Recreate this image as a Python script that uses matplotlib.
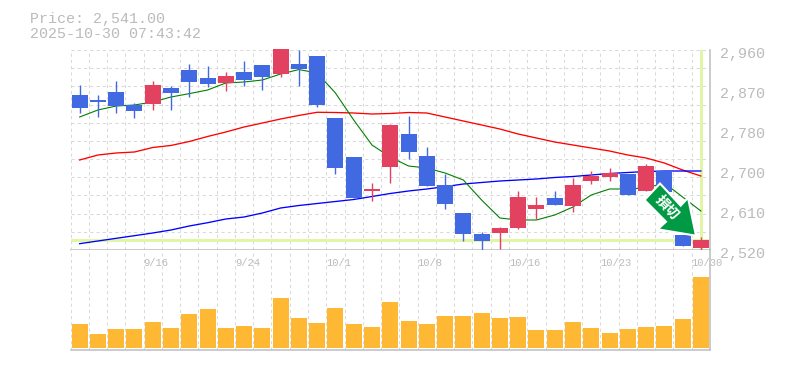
import numpy as np
import matplotlib
matplotlib.use('Agg')
import matplotlib.pyplot as plt
from matplotlib.patches import Polygon
from matplotlib.transforms import Affine2D

dates = {4: '9/16', 9: '9/24', 14: '10/1', 19: '10/8', 24: '10/16', 29: '10/23', 34: '10/30'}

opens = [2861, 2850, 2868, 2839, 2841, 2876, 2916, 2898, 2887, 2912, 2927, 2907, 2929, 2947, 2810, 2725, 2650, 2703,
         2775, 2727, 2663, 2601, 2555, 2557, 2568, 2610, 2634, 2617, 2672, 2681, 2687, 2650, 2694, 2553, 2524]
closes = [2832, 2846, 2837, 2826, 2883, 2865, 2890, 2885, 2903, 2894, 2901, 2962, 2918, 2839, 2700, 2634, 2654, 2795,
          2736, 2661, 2621, 2555, 2540, 2568, 2637, 2619, 2619, 2663, 2683, 2689, 2641, 2705, 2648, 2529, 2541]
highs = [2883, 2861, 2892, 2843, 2892, 2881, 2929, 2925, 2912, 2936, 2927, 2962, 2960, 2947, 2810, 2725, 2667, 2797,
         2815, 2747, 2687, 2601, 2560, 2571, 2650, 2637, 2650, 2678, 2694, 2700, 2687, 2709, 2694, 2553, 2549]
lows = [2821, 2813, 2821, 2810, 2828, 2828, 2857, 2879, 2870, 2881, 2872, 2901, 2881, 2835, 2687, 2634, 2628, 2667,
        2720, 2661, 2610, 2540, 2518, 2522, 2566, 2588, 2619, 2604, 2665, 2672, 2641, 2650, 2648, 2529, 2518]

ma_short = [2812.6, 2828, 2836.8, 2839, 2845.6, 2856.6, 2864, 2872, 2887.4, 2889.6, 2894, 2907.2, 2917, 2909.4, 2865.4,
            2806, 2751, 2724.6, 2704.8, 2700.4, 2689.4, 2674, 2630, 2590.4, 2586, 2586, 2597, 2614.6, 2641, 2654.2,
            2654.2, 2656.4, 2667.4, 2636.6, 2605.8]
ma_mid = [2718, 2729, 2733.4, 2735.6, 2745.5, 2750, 2758.7, 2769.7, 2779.6, 2790.6, 2799.4, 2808.2, 2816, 2823, 2822.5,
          2821.4, 2819.2, 2820.3, 2822.5, 2821.4, 2812.6, 2803.8, 2795, 2786.2, 2775.2, 2766.4, 2757.6, 2751, 2744.4,
          2737.8, 2729, 2722.4, 2711.4, 2696, 2682.8]
ma_long = [2533.9, 2539.8, 2545.7, 2551.5, 2557.4, 2564, 2572.8, 2580, 2588.2, 2592.6, 2601.4, 2612.4, 2617.9, 2622.3,
           2626.7, 2631.1, 2637.7, 2644.3, 2649.8, 2654.2, 2659.3, 2665.2, 2668.5, 2671.8, 2674, 2676.2, 2679.5, 2681.7,
           2685, 2688.3, 2690.5, 2692.7, 2693.8, 2693.8, 2693.8]
volume = [24, 14, 19, 19, 26, 20, 34, 39, 20, 22, 20, 50, 30, 25, 40, 24, 21, 46, 27, 24, 32, 32, 35, 30, 31, 18, 18,
          26, 20, 15, 19, 21, 22, 29, 71]

price_ticks = [2960, 2872, 2784, 2696, 2608, 2520]
price_now = 2541
title_lines = ['Price: 2,541.00', '2025-10-30 07:43:42']

UP = '#e34160'
DOWN = '#4169e1'
GRID = '#d9d9d9'
AXIS = '#bdbdbd'
TEXT = '#bbbbbb'
MARK = '#e0f5a6'
MONO = 'Liberation Mono'

W, H = 785, 370
fig = plt.figure(figsize=(W / 100, H / 100), dpi=100, facecolor='white')
ax = fig.add_axes([70.5 / W, (H - 250) / H, 639.5 / W, 200 / H])
vol = fig.add_axes([70.5 / W, (H - 350) / H, 639.5 / W, 100 / H])

x = np.arange(len(opens))
edges = np.arange(len(opens) + 1) - 0.5

for a in (ax, vol):
    a.set_xlim(-0.5, len(opens) - 0.5)
    a.set_xticks(edges, minor=True)
    a.set_xticks([])
    a.tick_params(which='both', length=0, labelbottom=False, labelleft=False)
    a.grid(True, which='minor', axis='x', color=GRID, lw=0.75, dashes=(3, 3))
    a.set_axisbelow(True)
    for s in ('top', 'left'):
        a.spines[s].set_visible(False)
    a.spines['right'].set_color(AXIS)
    a.spines['bottom'].set_color(AXIS)
    a.spines['right'].set_linewidth(1.1)
    a.spines['bottom'].set_linewidth(1.1)

# price panel
ax.set_ylim(2520, 2960)
ax.set_yticks(np.arange(2520, 2961, 40), minor=True)
ax.set_yticks([])
ax.grid(True, which='minor', axis='y', color=GRID, lw=0.75, dashes=(3, 3))
ax.axhline(price_now, color=MARK, lw=2.2, zorder=1.5)
ax.axvline(x[-1], color=MARK, lw=2.2, zorder=1.5)
ax.plot(x, ma_mid, color='#ff0000', lw=0.95, zorder=2)
ax.plot(x, ma_long, color='#0000ff', lw=0.95, zorder=2)
ax.plot(x, ma_short, color='#008000', lw=0.8, zorder=2)

colors = [UP if c >= o else DOWN for o, c in zip(opens, closes)]
ax.vlines(x, lows, highs, colors=colors, lw=1.0, zorder=3, clip_on=False)
ax.bar(x, np.abs(np.subtract(closes, opens)), bottom=np.minimum(opens, closes), width=0.875, color=colors,
       zorder=4, clip_on=False)

for p in price_ticks:
    ax.annotate('{:,}'.format(round(p, -1)), xy=(1, p), xycoords=ax.get_yaxis_transform(), xytext=(10, -4),
                textcoords='offset pixels', ha='left', va='center', family=MONO, fontsize=10.8, color=TEXT,
                annotation_clip=False)

# volume panel
vol.set_ylim(-2, 98)
vol.bar(x, volume, width=0.875, color='#ffb833', zorder=3)
for i, label in dates.items():
    vol.text(i - 0.5, 0.875, label, transform=vol.get_xaxis_transform(), ha='left', va='center', family=MONO,
             fontsize=7.6, color=TEXT, clip_on=False, zorder=5)

fig.text(30 / W, 1 - 18.5 / H, title_lines[0], family=MONO, fontsize=10.8, color=TEXT, va='center')
fig.text(30 / W, 1 - 33.5 / H, title_lines[1], family=MONO, fontsize=10.8, color=TEXT, va='center')

# stop-loss stamp, placed in image pixels
to_px = Affine2D().scale(1, -1).translate(0, H)
arrow_px = [(644.5, 200), (660, 183.5), (680.7, 205.7), (688, 197.7), (696, 235.7), (657.7, 229.3), (666, 221.7)]
fig.add_artist(Polygon(arrow_px, closed=True, facecolor='#009944', edgecolor='white', lw=1.5, joinstyle='miter',
                       transform=to_px, zorder=10))
fig.text(666.5 / W, 1 - 207.5 / H, '損切', family=['Noto Sans CJK JP', 'DejaVu Sans'], fontweight='bold', fontsize=10,
         color='white', rotation=-47, ha='center', va='center', rotation_mode='anchor', zorder=11)

fig.savefig('out.png', dpi=100)
